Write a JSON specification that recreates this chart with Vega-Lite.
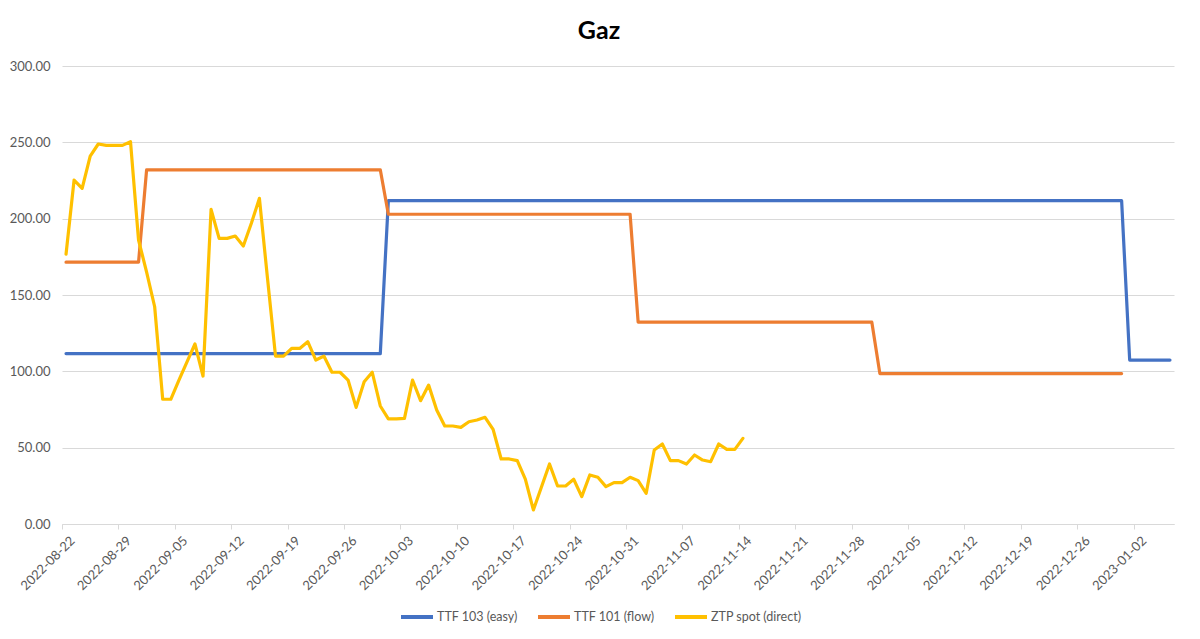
{
  "$schema": "https://vega.github.io/schema/vega-lite/v6.json",
  "width": 1112,
  "height": 458,
  "autosize": {"type": "none"},
  "padding": {"left": 62, "top": 66, "right": 26, "bottom": 115},
  "background": "white",
  "title": {"text": "Gaz", "font": "Lato", "fontSize": 25, "fontWeight": "bold", "color": "#000000", "anchor": "middle", "frame": "group", "offset": 16, "dx": -19},
  "data": {
    "format": {"parse": {"date": "date:'%Y-%m-%d'"}},
    "values": [
      {"date": "2022-08-22", "ttf103": 111.6, "ttf101": 171.5, "ztp": 176.7},
      {"date": "2022-08-23", "ttf103": 111.6, "ttf101": 171.5, "ztp": 225.3},
      {"date": "2022-08-24", "ttf103": 111.6, "ttf101": 171.5, "ztp": 219.9},
      {"date": "2022-08-25", "ttf103": 111.6, "ttf101": 171.5, "ztp": 241.0},
      {"date": "2022-08-26", "ttf103": 111.6, "ttf101": 171.5, "ztp": 248.9},
      {"date": "2022-08-27", "ttf103": 111.6, "ttf101": 171.5, "ztp": 248.0},
      {"date": "2022-08-28", "ttf103": 111.6, "ttf101": 171.5, "ztp": 248.0},
      {"date": "2022-08-29", "ttf103": 111.6, "ttf101": 171.5, "ztp": 248.0},
      {"date": "2022-08-30", "ttf103": 111.6, "ttf101": 171.5, "ztp": 250.4},
      {"date": "2022-08-31", "ttf103": 111.6, "ttf101": 171.5, "ztp": 186.0},
      {"date": "2022-09-01", "ttf103": 111.6, "ttf101": 232.0, "ztp": 165.0},
      {"date": "2022-09-02", "ttf103": 111.6, "ttf101": 232.0, "ztp": 142.3},
      {"date": "2022-09-03", "ttf103": 111.6, "ttf101": 232.0, "ztp": 81.7},
      {"date": "2022-09-04", "ttf103": 111.6, "ttf101": 232.0, "ztp": 81.7},
      {"date": "2022-09-05", "ttf103": 111.6, "ttf101": 232.0, "ztp": 94.0},
      {"date": "2022-09-06", "ttf103": 111.6, "ttf101": 232.0, "ztp": 106.0},
      {"date": "2022-09-07", "ttf103": 111.6, "ttf101": 232.0, "ztp": 117.9},
      {"date": "2022-09-08", "ttf103": 111.6, "ttf101": 232.0, "ztp": 96.9},
      {"date": "2022-09-09", "ttf103": 111.6, "ttf101": 232.0, "ztp": 206.1},
      {"date": "2022-09-10", "ttf103": 111.6, "ttf101": 232.0, "ztp": 187.1},
      {"date": "2022-09-11", "ttf103": 111.6, "ttf101": 232.0, "ztp": 187.1},
      {"date": "2022-09-12", "ttf103": 111.6, "ttf101": 232.0, "ztp": 188.6},
      {"date": "2022-09-13", "ttf103": 111.6, "ttf101": 232.0, "ztp": 182.1},
      {"date": "2022-09-14", "ttf103": 111.6, "ttf101": 232.0, "ztp": 197.0},
      {"date": "2022-09-15", "ttf103": 111.6, "ttf101": 232.0, "ztp": 213.3},
      {"date": "2022-09-16", "ttf103": 111.6, "ttf101": 232.0, "ztp": 161.0},
      {"date": "2022-09-17", "ttf103": 111.6, "ttf101": 232.0, "ztp": 110.0},
      {"date": "2022-09-18", "ttf103": 111.6, "ttf101": 232.0, "ztp": 110.0},
      {"date": "2022-09-19", "ttf103": 111.6, "ttf101": 232.0, "ztp": 115.0},
      {"date": "2022-09-20", "ttf103": 111.6, "ttf101": 232.0, "ztp": 115.0},
      {"date": "2022-09-21", "ttf103": 111.6, "ttf101": 232.0, "ztp": 119.4},
      {"date": "2022-09-22", "ttf103": 111.6, "ttf101": 232.0, "ztp": 107.4},
      {"date": "2022-09-23", "ttf103": 111.6, "ttf101": 232.0, "ztp": 110.0},
      {"date": "2022-09-24", "ttf103": 111.6, "ttf101": 232.0, "ztp": 99.4},
      {"date": "2022-09-25", "ttf103": 111.6, "ttf101": 232.0, "ztp": 99.4},
      {"date": "2022-09-26", "ttf103": 111.6, "ttf101": 232.0, "ztp": 94.3},
      {"date": "2022-09-27", "ttf103": 111.6, "ttf101": 232.0, "ztp": 76.4},
      {"date": "2022-09-28", "ttf103": 111.6, "ttf101": 232.0, "ztp": 93.2},
      {"date": "2022-09-29", "ttf103": 111.6, "ttf101": 232.0, "ztp": 99.4},
      {"date": "2022-09-30", "ttf103": 111.6, "ttf101": 232.0, "ztp": 77.3},
      {"date": "2022-10-01", "ttf103": 211.8, "ttf101": 202.9, "ztp": 68.8},
      {"date": "2022-10-02", "ttf103": 211.8, "ttf101": 202.9, "ztp": 68.8},
      {"date": "2022-10-03", "ttf103": 211.8, "ttf101": 202.9, "ztp": 69.2},
      {"date": "2022-10-04", "ttf103": 211.8, "ttf101": 202.9, "ztp": 94.3},
      {"date": "2022-10-05", "ttf103": 211.8, "ttf101": 202.9, "ztp": 80.8},
      {"date": "2022-10-06", "ttf103": 211.8, "ttf101": 202.9, "ztp": 91.0},
      {"date": "2022-10-07", "ttf103": 211.8, "ttf101": 202.9, "ztp": 74.7},
      {"date": "2022-10-08", "ttf103": 211.8, "ttf101": 202.9, "ztp": 64.2},
      {"date": "2022-10-09", "ttf103": 211.8, "ttf101": 202.9, "ztp": 64.2},
      {"date": "2022-10-10", "ttf103": 211.8, "ttf101": 202.9, "ztp": 63.3},
      {"date": "2022-10-11", "ttf103": 211.8, "ttf101": 202.9, "ztp": 67.0},
      {"date": "2022-10-12", "ttf103": 211.8, "ttf101": 202.9, "ztp": 68.1},
      {"date": "2022-10-13", "ttf103": 211.8, "ttf101": 202.9, "ztp": 69.9},
      {"date": "2022-10-14", "ttf103": 211.8, "ttf101": 202.9, "ztp": 62.0},
      {"date": "2022-10-15", "ttf103": 211.8, "ttf101": 202.9, "ztp": 42.6},
      {"date": "2022-10-16", "ttf103": 211.8, "ttf101": 202.9, "ztp": 42.6},
      {"date": "2022-10-17", "ttf103": 211.8, "ttf101": 202.9, "ztp": 41.5},
      {"date": "2022-10-18", "ttf103": 211.8, "ttf101": 202.9, "ztp": 29.4},
      {"date": "2022-10-19", "ttf103": 211.8, "ttf101": 202.9, "ztp": 9.2},
      {"date": "2022-10-20", "ttf103": 211.8, "ttf101": 202.9, "ztp": 24.2},
      {"date": "2022-10-21", "ttf103": 211.8, "ttf101": 202.9, "ztp": 39.3},
      {"date": "2022-10-22", "ttf103": 211.8, "ttf101": 202.9, "ztp": 24.9},
      {"date": "2022-10-23", "ttf103": 211.8, "ttf101": 202.9, "ztp": 24.9},
      {"date": "2022-10-24", "ttf103": 211.8, "ttf101": 202.9, "ztp": 29.3},
      {"date": "2022-10-25", "ttf103": 211.8, "ttf101": 202.9, "ztp": 17.9},
      {"date": "2022-10-26", "ttf103": 211.8, "ttf101": 202.9, "ztp": 32.1},
      {"date": "2022-10-27", "ttf103": 211.8, "ttf101": 202.9, "ztp": 30.6},
      {"date": "2022-10-28", "ttf103": 211.8, "ttf101": 202.9, "ztp": 24.5},
      {"date": "2022-10-29", "ttf103": 211.8, "ttf101": 202.9, "ztp": 27.1},
      {"date": "2022-10-30", "ttf103": 211.8, "ttf101": 202.9, "ztp": 27.1},
      {"date": "2022-10-31", "ttf103": 211.8, "ttf101": 202.9, "ztp": 30.6},
      {"date": "2022-11-01", "ttf103": 211.8, "ttf101": 132.2, "ztp": 28.4},
      {"date": "2022-11-02", "ttf103": 211.8, "ttf101": 132.2, "ztp": 20.1},
      {"date": "2022-11-03", "ttf103": 211.8, "ttf101": 132.2, "ztp": 48.5},
      {"date": "2022-11-04", "ttf103": 211.8, "ttf101": 132.2, "ztp": 52.4},
      {"date": "2022-11-05", "ttf103": 211.8, "ttf101": 132.2, "ztp": 41.5},
      {"date": "2022-11-06", "ttf103": 211.8, "ttf101": 132.2, "ztp": 41.5},
      {"date": "2022-11-07", "ttf103": 211.8, "ttf101": 132.2, "ztp": 39.3},
      {"date": "2022-11-08", "ttf103": 211.8, "ttf101": 132.2, "ztp": 45.2},
      {"date": "2022-11-09", "ttf103": 211.8, "ttf101": 132.2, "ztp": 41.9},
      {"date": "2022-11-10", "ttf103": 211.8, "ttf101": 132.2, "ztp": 40.8},
      {"date": "2022-11-11", "ttf103": 211.8, "ttf101": 132.2, "ztp": 52.4},
      {"date": "2022-11-12", "ttf103": 211.8, "ttf101": 132.2, "ztp": 48.9},
      {"date": "2022-11-13", "ttf103": 211.8, "ttf101": 132.2, "ztp": 48.9},
      {"date": "2022-11-14", "ttf103": 211.8, "ttf101": 132.2, "ztp": 56.1},
      {"date": "2022-11-15", "ttf103": 211.8, "ttf101": 132.2},
      {"date": "2022-11-16", "ttf103": 211.8, "ttf101": 132.2},
      {"date": "2022-11-17", "ttf103": 211.8, "ttf101": 132.2},
      {"date": "2022-11-18", "ttf103": 211.8, "ttf101": 132.2},
      {"date": "2022-11-19", "ttf103": 211.8, "ttf101": 132.2},
      {"date": "2022-11-20", "ttf103": 211.8, "ttf101": 132.2},
      {"date": "2022-11-21", "ttf103": 211.8, "ttf101": 132.2},
      {"date": "2022-11-22", "ttf103": 211.8, "ttf101": 132.2},
      {"date": "2022-11-23", "ttf103": 211.8, "ttf101": 132.2},
      {"date": "2022-11-24", "ttf103": 211.8, "ttf101": 132.2},
      {"date": "2022-11-25", "ttf103": 211.8, "ttf101": 132.2},
      {"date": "2022-11-26", "ttf103": 211.8, "ttf101": 132.2},
      {"date": "2022-11-27", "ttf103": 211.8, "ttf101": 132.2},
      {"date": "2022-11-28", "ttf103": 211.8, "ttf101": 132.2},
      {"date": "2022-11-29", "ttf103": 211.8, "ttf101": 132.2},
      {"date": "2022-11-30", "ttf103": 211.8, "ttf101": 132.2},
      {"date": "2022-12-01", "ttf103": 211.8, "ttf101": 98.5},
      {"date": "2022-12-02", "ttf103": 211.8, "ttf101": 98.5},
      {"date": "2022-12-03", "ttf103": 211.8, "ttf101": 98.5},
      {"date": "2022-12-04", "ttf103": 211.8, "ttf101": 98.5},
      {"date": "2022-12-05", "ttf103": 211.8, "ttf101": 98.5},
      {"date": "2022-12-06", "ttf103": 211.8, "ttf101": 98.5},
      {"date": "2022-12-07", "ttf103": 211.8, "ttf101": 98.5},
      {"date": "2022-12-08", "ttf103": 211.8, "ttf101": 98.5},
      {"date": "2022-12-09", "ttf103": 211.8, "ttf101": 98.5},
      {"date": "2022-12-10", "ttf103": 211.8, "ttf101": 98.5},
      {"date": "2022-12-11", "ttf103": 211.8, "ttf101": 98.5},
      {"date": "2022-12-12", "ttf103": 211.8, "ttf101": 98.5},
      {"date": "2022-12-13", "ttf103": 211.8, "ttf101": 98.5},
      {"date": "2022-12-14", "ttf103": 211.8, "ttf101": 98.5},
      {"date": "2022-12-15", "ttf103": 211.8, "ttf101": 98.5},
      {"date": "2022-12-16", "ttf103": 211.8, "ttf101": 98.5},
      {"date": "2022-12-17", "ttf103": 211.8, "ttf101": 98.5},
      {"date": "2022-12-18", "ttf103": 211.8, "ttf101": 98.5},
      {"date": "2022-12-19", "ttf103": 211.8, "ttf101": 98.5},
      {"date": "2022-12-20", "ttf103": 211.8, "ttf101": 98.5},
      {"date": "2022-12-21", "ttf103": 211.8, "ttf101": 98.5},
      {"date": "2022-12-22", "ttf103": 211.8, "ttf101": 98.5},
      {"date": "2022-12-23", "ttf103": 211.8, "ttf101": 98.5},
      {"date": "2022-12-24", "ttf103": 211.8, "ttf101": 98.5},
      {"date": "2022-12-25", "ttf103": 211.8, "ttf101": 98.5},
      {"date": "2022-12-26", "ttf103": 211.8, "ttf101": 98.5},
      {"date": "2022-12-27", "ttf103": 211.8, "ttf101": 98.5},
      {"date": "2022-12-28", "ttf103": 211.8, "ttf101": 98.5},
      {"date": "2022-12-29", "ttf103": 211.8, "ttf101": 98.5},
      {"date": "2022-12-30", "ttf103": 211.8, "ttf101": 98.5},
      {"date": "2022-12-31", "ttf103": 211.8, "ttf101": 98.5},
      {"date": "2023-01-01", "ttf103": 107.4},
      {"date": "2023-01-02", "ttf103": 107.4},
      {"date": "2023-01-03", "ttf103": 107.4},
      {"date": "2023-01-04", "ttf103": 107.4},
      {"date": "2023-01-05", "ttf103": 107.4},
      {"date": "2023-01-06", "ttf103": 107.4}
    ]
  },
  "transform": [
    {"fold": ["ttf103", "ttf101", "ztp"], "as": ["series", "value"]},
    {"filter": "isValid(datum.value)"}
  ],
  "mark": {"type": "line", "strokeWidth": 3.2, "strokeJoin": "round", "strokeCap": "round"},
  "encoding": {
    "x": {
      "field": "date",
      "type": "temporal",
      "timeUnit": "yearmonthdate",
      "bandPosition": 0.5,
      "scale": {"domain": [{"year": 2022, "month": 8, "date": 22}, {"year": 2023, "month": 1, "date": 7}], "nice": false},
      "axis": {
        "title": null,
        "grid": false,
        "format": "%Y-%m-%d",
        "formatType": "time",
        "values": [
          {"year": 2022, "month": 8, "date": 22},
          {"year": 2022, "month": 8, "date": 29},
          {"year": 2022, "month": 9, "date": 5},
          {"year": 2022, "month": 9, "date": 12},
          {"year": 2022, "month": 9, "date": 19},
          {"year": 2022, "month": 9, "date": 26},
          {"year": 2022, "month": 10, "date": 3},
          {"year": 2022, "month": 10, "date": 10},
          {"year": 2022, "month": 10, "date": 17},
          {"year": 2022, "month": 10, "date": 24},
          {"year": 2022, "month": 10, "date": 31},
          {"year": 2022, "month": 11, "date": 7},
          {"year": 2022, "month": 11, "date": 14},
          {"year": 2022, "month": 11, "date": 21},
          {"year": 2022, "month": 11, "date": 28},
          {"year": 2022, "month": 12, "date": 5},
          {"year": 2022, "month": 12, "date": 12},
          {"year": 2022, "month": 12, "date": 19},
          {"year": 2022, "month": 12, "date": 26},
          {"year": 2023, "month": 1, "date": 2}
        ],
        "labelAngle": -45,
        "labelFont": "Lato",
        "labelFontSize": 13,
        "labelColor": "#595959",
        "labelPadding": 5,
        "labelOffset": 6,
        "domainColor": "#d9d9d9",
        "tickColor": "#d9d9d9",
        "tickSize": 5,
        "labelOverlap": false,
        "labelFlush": false
      }
    },
    "y": {
      "field": "value",
      "type": "quantitative",
      "scale": {"domain": [0, 300], "nice": false},
      "axis": {
        "title": null,
        "values": [0, 50, 100, 150, 200, 250, 300],
        "format": ".2f",
        "grid": true,
        "gridColor": "#d9d9d9",
        "domain": false,
        "ticks": false,
        "labelPadding": 12,
        "labelFont": "Lato",
        "labelFontSize": 13,
        "labelColor": "#595959"
      }
    },
    "color": {
      "field": "series",
      "type": "nominal",
      "scale": {"domain": ["ttf103", "ttf101", "ztp"], "range": ["#4472C4", "#ED7D31", "#FFC000"]},
      "legend": {
        "title": null,
        "orient": "none",
        "legendX": 337,
        "legendY": 533,
        "direction": "horizontal",
        "symbolType": "stroke",
        "symbolStrokeWidth": 4,
        "symbolSize": 1024,
        "labelFont": "Lato",
        "labelFontSize": 12.5,
        "labelColor": "#595959",
        "labelOffset": 2,
        "columnPadding": 12,
        "labelExpr": "datum.value == 'ttf103' ? 'TTF 103 (easy)' : datum.value == 'ttf101' ? 'TTF 101 (flow)' : 'ZTP spot (direct)'"
      }
    }
  },
  "config": {
    "view": {"stroke": null}
  }
}
